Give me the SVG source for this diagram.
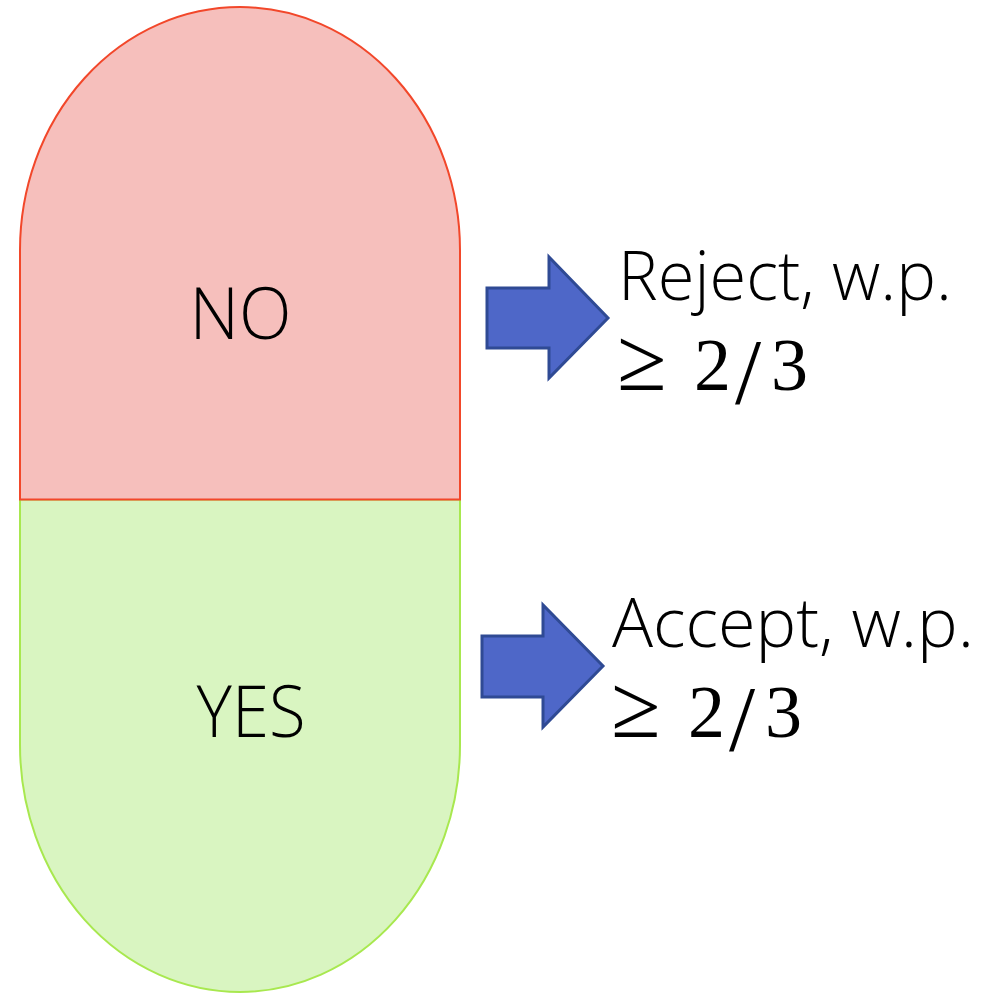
<svg xmlns="http://www.w3.org/2000/svg" width="1001" height="993" viewBox="0 0 1001 993">
<style>
.lbl{font-family:"Open Sans","Liberation Sans",sans-serif;font-weight:300;fill:#000;}
.math{font-family:"Liberation Serif","DejaVu Serif",serif;fill:#000;font-size:74px;}
.geq{font-size:90px;}
.sl{font-size:94px;}
.arrow{fill:#4E67C8;stroke:#2F4A94;stroke-width:3;stroke-linejoin:miter;}
</style>
<rect width="1001" height="993" fill="#fff"/>
<g id="yes">
<path d="M20,499.5 L20,745 A220,247 0 0 0 460,745 L460,499.5 Z" fill="#D9F5C1" stroke="#A8E84F" stroke-width="2"/>
<text class="lbl" x="251" y="737" font-size="71" text-anchor="middle" textLength="109" lengthAdjust="spacingAndGlyphs">YES</text>
</g>
<g id="no">
<path d="M20,499.5 L20,250 A220,243 0 0 1 460,250 L460,499.5 Z" fill="#F6BFBC" stroke="#F2472A" stroke-width="2"/>
<text class="lbl" x="240.5" y="339" font-size="72" text-anchor="middle" textLength="102" lengthAdjust="spacingAndGlyphs">NO</text>
</g>
<g id="connectors">
<path class="arrow" d="M487,288 L549,288 L549,257 L608,318 L549,378 L549,348 L487,348 Z"/>
<path class="arrow" d="M482,636 L543,636 L543,605 L603,666 L543,727 L543,697 L482,697 Z"/>
</g>
<g id="reject">
<text class="lbl" x="618" y="300" font-size="68" textLength="334" lengthAdjust="spacingAndGlyphs">Reject, w.p.</text>
<text class="math" y="390"><tspan class="geq" x="617">≥</tspan><tspan x="694">2</tspan><tspan class="sl" x="735" y="403">/</tspan><tspan x="771" y="390">3</tspan></text>
</g>
<g id="accept">
<text class="lbl" x="612" y="647" font-size="68" textLength="362" lengthAdjust="spacingAndGlyphs">Accept, w.p.</text>
<text class="math" y="737"><tspan class="geq" x="611">≥</tspan><tspan x="688">2</tspan><tspan class="sl" x="729" y="750">/</tspan><tspan x="765" y="737">3</tspan></text>
</g>
</svg>
